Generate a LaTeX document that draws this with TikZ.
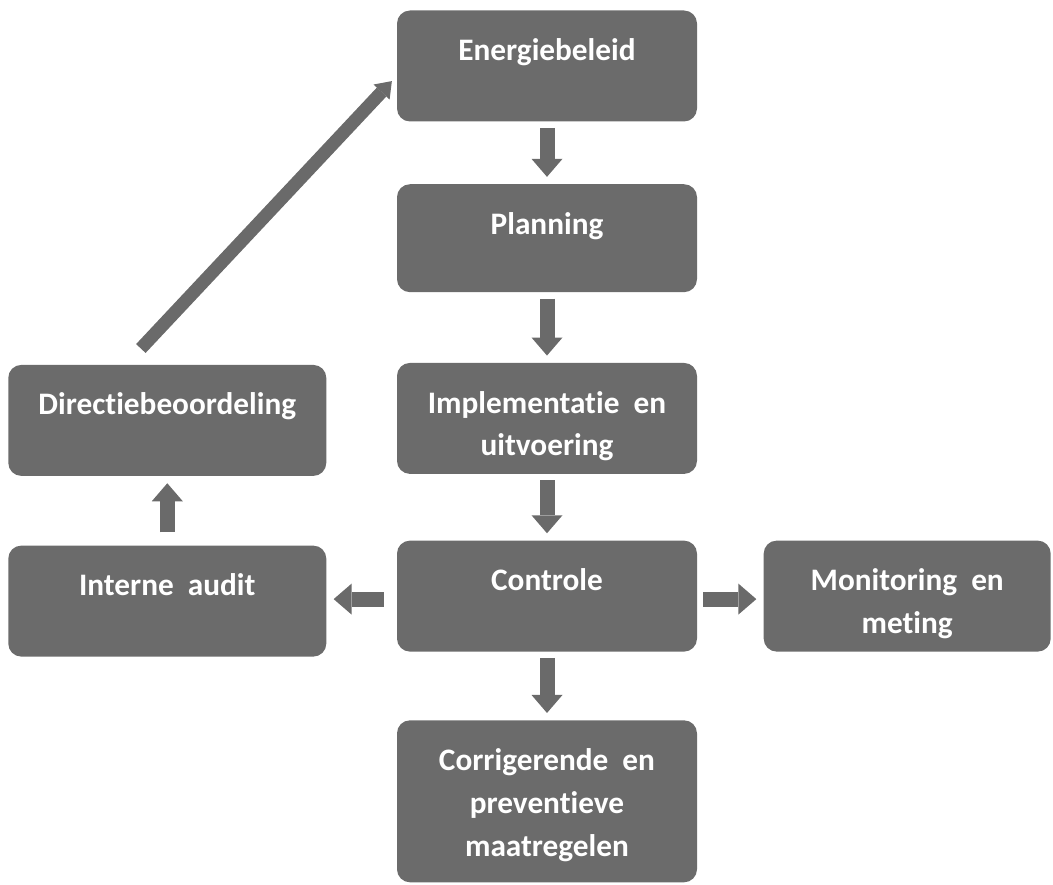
\documentclass[tikz,border=0pt]{standalone}
\usepackage{fontspec}
\setmainfont{Carlito}[Ligatures=NoCommon]
\usepackage{tikz}
\usetikzlibrary{arrows.meta, positioning}
\definecolor{colorBox}{HTML}{6B6B6B}
\definecolor{colorArrow}{HTML}{6A6A6A}

\begin{document}
\begin{tikzpicture}[
        box/.style={fill=colorBox, rounded corners=0.26cm, text=white,
            font=\bfseries\fontsize{17.8}{24.4}\selectfont, align=center,
            inner xsep=0pt, inner ysep=0pt, text height=1cm, text depth=1.22cm,
            minimum width=6cm},
        twolines/.style={text height=1.86cm, text depth=0.36cm},
        flow/.style={draw=colorArrow, line width=0.3cm,
            -{Triangle[width=0.62cm, length=0.36cm, line width=0pt]},
            shorten <=0.12cm, shorten >=0.14cm},
        diag/.style={draw=colorArrow, line width=0.26cm,
            -{Triangle[width=0.44cm, length=0.3cm, line width=0pt]}}
    ]
        \useasboundingbox (0,0) rectangle (21.06,-17.7);
        \node[box] (energie) at (10.94,-1.32) {Energiebeleid};
        \node[box, below=1.24cm of energie, text depth=1.16cm] (planning) {Planning};
        \node[box, twolines, below=1.4cm of planning] (impl) {Implementatie\ \ en\\uitvoering};
        \node[box, below=1.32cm of impl] (ctrl) {Controle};
        \node[box, below=1.36cm of ctrl, text height=2.72cm, text depth=0.52cm] (corr) {Corrigerende\ \ en\\preventieve\\maatregelen};
        \node[box, twolines, right=1.32cm of ctrl, minimum width=5.74cm] (monitor) {Monitoring\ \ en\\meting};
        \node[box, left=1.4cm of ctrl, minimum width=6.36cm, yshift=-0.1cm] (audit) {Interne\ \ audit};
        \node[box, above=1.38cm of audit, minimum width=6.36cm] (directie) {Directiebeoordeling};
        \draw[flow] (energie) -- (planning);
        \draw[flow] (planning) -- (impl);
        \draw[flow] (impl) -- (ctrl);
        \draw[flow] (ctrl) -- (corr);
        \draw[flow, shorten <=0.26cm] ([yshift=-0.06cm]ctrl.west) -- ([yshift=-0.06cm]ctrl.west -| audit.east);
        \draw[flow] ([yshift=-0.06cm]ctrl.east) -- ([yshift=-0.06cm]ctrl.east -| monitor.west);
        \draw[flow, shorten <=0.26cm] (audit) -- (directie);
        \draw[diag, shorten <=0.44cm, shorten >=0.14cm] ([xshift=-0.83cm]directie.north) -- ([yshift=-0.2cm]energie.west);
\end{tikzpicture}
\end{document}
